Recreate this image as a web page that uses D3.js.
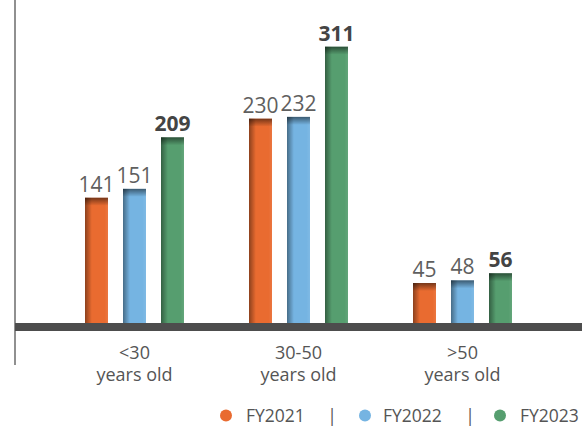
<!DOCTYPE html>
<html>
<head>
<meta charset="utf-8">
<script src="https://cdn.jsdelivr.net/npm/d3@7"></script>
<style>
  html, body { margin: 0; padding: 0; background: #fff; }
  svg { display: block; font-family: "Open Sans", sans-serif; }
</style>
</head>
<body>
<svg id="chart" width="582" height="430"></svg>
<script>
const categories = ["<30", "30-50", ">50"];
const categoryLine2 = ["years old", "years old", "years old"];
const series = ["FY2021", "FY2022", "FY2023"];
const FY2021 = [141, 230, 45];
const FY2022 = [151, 232, 48];
const FY2023 = [209, 311, 56];
const colors = ["#E96B30", "#75B4E2", "#569E6F"];

const values = [FY2021, FY2022, FY2023];
const svg = d3.select("#chart");

const baseY = 323;
const y = d3.scaleLinear().domain([0, 350]).range([baseY, baseY - 350 * 0.8884]);
const x0 = d3.scaleBand().domain(categories).range([52.5, 544.5]).padding(0);
const p = 15 / 38;
const x1 = d3.scaleBand().domain(series).range([0, x0.bandwidth() - 50]).paddingInner(p).paddingOuter(p / 2);
const subOffset = 25;

const defs = svg.append("defs");
const hg = defs.append("linearGradient").attr("id", "hshade").attr("x1", 0).attr("x2", 1).attr("y1", 0).attr("y2", 0);
hg.append("stop").attr("offset", "0").attr("stop-color", "#000").attr("stop-opacity", 0.4);
hg.append("stop").attr("offset", "0.3").attr("stop-color", "#000").attr("stop-opacity", 0.0);
hg.append("stop").attr("offset", "0.85").attr("stop-color", "#fff").attr("stop-opacity", 0.0);
hg.append("stop").attr("offset", "1").attr("stop-color", "#fff").attr("stop-opacity", 0.08);
const vg = defs.append("linearGradient").attr("id", "vshade").attr("x1", 0).attr("x2", 0).attr("y1", 0).attr("y2", 1);
vg.append("stop").attr("offset", "0").attr("stop-color", "#000").attr("stop-opacity", 0.5);
vg.append("stop").attr("offset", "0.4").attr("stop-color", "#000").attr("stop-opacity", 0.3);
vg.append("stop").attr("offset", "1").attr("stop-color", "#000").attr("stop-opacity", 0);

svg.append("line").attr("x1", 15).attr("x2", 15).attr("y1", 0).attr("y2", 365)
  .attr("stroke", "#6b6b6b").attr("stroke-width", 1.5);

const rows = [];
categories.forEach((c, ci) => {
  series.forEach((s, si) => {
    rows.push({ c, s, si, v: values[si][ci] });
  });
});

const g = svg.append("g");
const bx = d => x0(d.c) + subOffset + x1(d.s);

g.selectAll("rect.bar").data(rows).join("rect").attr("class", "bar")
  .attr("x", bx).attr("y", d => y(d.v)).attr("width", x1.bandwidth())
  .attr("height", d => baseY - y(d.v)).attr("fill", d => colors[d.si]);
g.selectAll("rect.hs").data(rows).join("rect").attr("class", "hs")
  .attr("x", bx).attr("y", d => y(d.v)).attr("width", x1.bandwidth())
  .attr("height", d => baseY - y(d.v)).attr("fill", "url(#hshade)");
g.selectAll("rect.vs").data(rows).join("rect").attr("class", "vs")
  .attr("x", bx).attr("y", d => y(d.v)).attr("width", x1.bandwidth())
  .attr("height", 8).attr("fill", "url(#vshade)");

g.selectAll("text.val").data(rows).join("text").attr("class", "val")
  .attr("x", d => bx(d) + x1.bandwidth() / 2).attr("y", d => y(d.v) - 6)
  .attr("text-anchor", "middle")
  .attr("font-size", 21)
  .attr("font-weight", d => d.si === 2 ? 700 : 400)
  .attr("fill", d => d.si === 2 ? "#444" : "#5f5f5f")
  .text(d => d.v);

svg.append("rect").attr("x", 15).attr("y", baseY).attr("width", 582 - 15).attr("height", 8).attr("fill", "#4d4d4d");

const cl = svg.append("g").attr("font-size", 18).attr("fill", "#555").attr("text-anchor", "middle");
categories.forEach((c, i) => {
  const cx = x0(c) + x0.bandwidth() / 2;
  cl.append("text").attr("x", cx).attr("y", 358.5).text(c);
  cl.append("text").attr("x", cx).attr("y", 380.5).text(categoryLine2[i]);
});

const legendCircleX = [226, 365, 500];
const legendTextX = [246, 383, 520];
const legendSepX = [332, 470];
const lg = svg.append("g").attr("font-size", 17.5).attr("fill", "#555");
series.forEach((s, i) => {
  lg.append("circle").attr("cx", legendCircleX[i]).attr("cy", 415.5).attr("r", 6).attr("fill", colors[i]);
  lg.append("text").attr("x", legendTextX[i]).attr("y", 421.5).text(s);
});
legendSepX.forEach(xx => {
  lg.append("text").attr("x", xx).attr("y", 421.5).attr("text-anchor", "middle").text("|");
});
</script>
</body>
</html>
